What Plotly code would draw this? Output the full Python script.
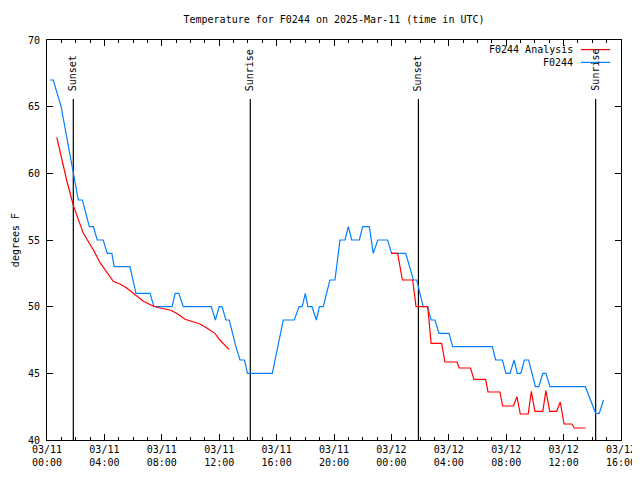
import plotly.graph_objects as go

# ---------------- data ----------------
title_text = "Temperature for F0244 on 2025-Mar-11 (time in UTC)"

blue_name = "F0244"
blue_time = [
    "2025-03-11 00:13", "2025-03-11 00:26", "2025-03-11 00:59", "2025-03-11 01:50",
    "2025-03-11 02:01", "2025-03-11 02:11", "2025-03-11 02:28", "2025-03-11 02:43",
    "2025-03-11 02:57", "2025-03-11 03:14", "2025-03-11 03:30", "2025-03-11 03:55",
    "2025-03-11 04:12", "2025-03-11 04:31", "2025-03-11 04:41", "2025-03-11 05:47",
    "2025-03-11 06:00", "2025-03-11 06:12", "2025-03-11 07:11", "2025-03-11 07:27",
    "2025-03-11 08:43", "2025-03-11 08:56", "2025-03-11 09:11", "2025-03-11 09:30",
    "2025-03-11 11:27", "2025-03-11 11:44", "2025-03-11 12:00", "2025-03-11 12:12",
    "2025-03-11 12:28", "2025-03-11 12:42", "2025-03-11 13:10", "2025-03-11 13:27",
    "2025-03-11 13:46", "2025-03-11 13:58", "2025-03-11 15:42", "2025-03-11 16:28",
    "2025-03-11 17:14", "2025-03-11 17:34", "2025-03-11 17:47", "2025-03-11 18:00",
    "2025-03-11 18:11", "2025-03-11 18:28", "2025-03-11 18:46", "2025-03-11 18:59",
    "2025-03-11 19:15", "2025-03-11 19:43", "2025-03-11 20:04", "2025-03-11 20:25",
    "2025-03-11 20:46", "2025-03-11 21:00", "2025-03-11 21:14", "2025-03-11 21:46",
    "2025-03-11 22:00", "2025-03-11 22:28", "2025-03-11 22:44", "2025-03-11 23:03",
    "2025-03-11 23:44", "2025-03-12 00:01", "2025-03-12 01:00", "2025-03-12 01:32",
    "2025-03-12 01:46", "2025-03-12 02:13", "2025-03-12 02:31", "2025-03-12 02:46",
    "2025-03-12 03:02", "2025-03-12 03:19", "2025-03-12 04:01", "2025-03-12 04:16",
    "2025-03-12 07:02", "2025-03-12 07:16", "2025-03-12 07:44", "2025-03-12 07:59",
    "2025-03-12 08:16", "2025-03-12 08:33", "2025-03-12 08:46", "2025-03-12 09:01",
    "2025-03-12 09:16", "2025-03-12 09:34", "2025-03-12 10:02", "2025-03-12 10:16",
    "2025-03-12 10:33", "2025-03-12 10:46", "2025-03-12 11:03", "2025-03-12 13:31",
    "2025-03-12 14:14", "2025-03-12 14:29", "2025-03-12 14:47",
]
blue_temp = [
    67, 67, 65, 60,
    59, 58, 58, 57,
    56, 56, 55, 55,
    54, 54, 53, 53,
    52, 51, 51, 50,
    50, 51, 51, 50,
    50, 49, 50, 50,
    49, 49, 47, 46,
    46, 45, 45, 49,
    49, 50, 50, 51,
    50, 50, 49, 50,
    50, 52, 52, 55,
    55, 56, 55, 55,
    56, 56, 54, 55,
    55, 54, 54, 52,
    52, 50, 50, 49,
    49, 48, 48, 47,
    47, 46, 46, 45,
    45, 46, 45, 45,
    46, 46, 44, 44,
    45, 45, 44, 44,
    42, 42, 43,
]

red_name = "F0244 Analysis"
red_time = [
    "2025-03-11 00:41", "2025-03-11 01:22", "2025-03-11 01:50", "2025-03-11 02:11",
    "2025-03-11 02:32", "2025-03-11 03:14", "2025-03-11 03:42", "2025-03-11 04:37",
    "2025-03-11 05:05", "2025-03-11 05:33", "2025-03-11 06:08", "2025-03-11 06:43",
    "2025-03-11 07:24", "2025-03-11 07:52", "2025-03-11 08:34", "2025-03-11 09:02",
    "2025-03-11 09:37", "2025-03-11 10:05", "2025-03-11 10:40", "2025-03-11 11:08",
    "2025-03-11 11:42", "2025-03-11 12:03", "2025-03-11 12:41",
    "2025-03-11 18:00",
    "2025-03-11 23:58", "2025-03-12 00:26", "2025-03-12 00:46", "2025-03-12 01:29",
    "2025-03-12 01:43", "2025-03-12 02:32", "2025-03-12 02:46", "2025-03-12 03:30",
    "2025-03-12 03:44", "2025-03-12 04:35", "2025-03-12 04:43", "2025-03-12 05:31",
    "2025-03-12 05:45", "2025-03-12 06:34", "2025-03-12 06:44", "2025-03-12 07:34",
    "2025-03-12 07:45", "2025-03-12 08:30", "2025-03-12 08:45", "2025-03-12 08:59",
    "2025-03-12 09:32", "2025-03-12 09:45", "2025-03-12 10:00", "2025-03-12 10:33",
    "2025-03-12 10:46", "2025-03-12 11:02", "2025-03-12 11:31", "2025-03-12 11:46",
    "2025-03-12 12:02", "2025-03-12 12:34", "2025-03-12 12:45", "2025-03-12 13:32",
]
red_temp = [
    62.7, 59.5, 57.6, 56.6,
    55.5, 54.25, 53.3, 51.9,
    51.7, 51.4, 50.9, 50.4,
    50.05, 49.9, 49.75, 49.5,
    49.05, 48.9, 48.7, 48.4,
    48.0, 47.5, 46.8,
    None,
    54.0, 54.0, 52.0, 52.0,
    50.0, 50.0, 47.25, 47.25,
    45.85, 45.85, 45.4, 45.4,
    44.55, 44.55, 43.6, 43.6,
    42.55, 42.55, 43.25, 41.95,
    41.95, 43.65, 42.15, 42.15,
    43.7, 42.15, 42.15, 42.85,
    41.2, 41.2, 40.9, 40.9,
]

sun_time = ["2025-03-11 01:50", "2025-03-11 14:10", "2025-03-12 01:53", "2025-03-12 14:14"]
sun_label = ["Sunset", "Sunrise", "Sunset", "Sunrise"]

x_tickvals = ["2025-03-11 00:00", "2025-03-11 04:00", "2025-03-11 08:00", "2025-03-11 12:00",
              "2025-03-11 16:00", "2025-03-11 20:00", "2025-03-12 00:00", "2025-03-12 04:00",
              "2025-03-12 08:00", "2025-03-12 12:00", "2025-03-12 16:00"]
x_ticktext = ["03/11<br>00:00", "03/11<br>04:00", "03/11<br>08:00", "03/11<br>12:00",
              "03/11<br>16:00", "03/11<br>20:00", "03/12<br>00:00", "03/12<br>04:00",
              "03/12<br>08:00", "03/12<br>12:00", "03/12<br>16:00"]
y_tickvals = [40, 45, 50, 55, 60, 65, 70]

x_range = ["2025-03-11 00:00", "2025-03-12 16:00"]
y_range = [40, 70]

# ---------------- styles ----------------
FONT = "DejaVu Sans Mono"
BLUE = "#0080ff"
RED = "#ff0000"

fig = go.Figure()
fig.add_trace(go.Scatter(x=blue_time, y=blue_temp, mode="lines", name=blue_name,
                         line=dict(color=BLUE, width=1.2), showlegend=False))
fig.add_trace(go.Scatter(x=red_time, y=red_temp, mode="lines", name=red_name,
                         line=dict(color=RED, width=1.2), connectgaps=False, showlegend=False))

# sunrise / sunset markers
for t, lab in zip(sun_time, sun_label):
    fig.add_shape(type="line", xref="x", yref="paper", x0=t, x1=t, y0=0, y1=0.8525,
                  line=dict(color="black", width=1.2), layer="below")
    fig.add_annotation(x=t, xref="x", y=0.8675, yref="paper", text=lab, textangle=-90,
                       showarrow=False, xanchor="center", yanchor="bottom",
                       font=dict(family=FONT, size=10, color="black"))

# gnuplot-style legend (text then line sample)
legend_rows = [(red_name, RED, 0.976), (blue_name, BLUE, 0.944)]
for name, col, yy in legend_rows:
    fig.add_annotation(x=0.919, xref="paper", y=yy, yref="paper", text=name,
                       showarrow=False, xanchor="right", yanchor="middle",
                       font=dict(family=FONT, size=10, color="black"))
    fig.add_shape(type="line", xref="paper", yref="paper", x0=0.930, x1=0.981,
                  y0=yy, y1=yy, line=dict(color=col, width=1.2))

# y axis title
fig.add_annotation(x=-0.0555, xref="paper", y=0.5, yref="paper", text="degrees F",
                   textangle=-90, showarrow=False, xanchor="center", yanchor="middle",
                   font=dict(family=FONT, size=10, color="black"))

# the page adds an 8px body margin, so the figure is shifted by (8, 8)
fig.update_layout(
    width=640, height=480,
    margin=dict(l=39, r=27, t=32, b=48),
    paper_bgcolor="white", plot_bgcolor="white",
    font=dict(family=FONT, size=10, color="black"),
    title=dict(text=title_text, x=0.5, xref="paper", xanchor="center",
               y=1 - 11 / 480, yref="container", yanchor="middle",
               font=dict(family=FONT, size=10, color="black")),
    showlegend=False,
)
fig.update_xaxes(type="date", range=x_range, tickmode="array", tickvals=x_tickvals,
                 ticktext=x_ticktext, ticks="inside", ticklen=6, tickcolor="black",
                 showline=True, linecolor="black", linewidth=1, mirror="ticks",
                 showgrid=False, zeroline=False,
                 minor=dict(ticks="inside", ticklen=3, dtick=3600000, tickcolor="black",
                            showgrid=False),
                 tickfont=dict(family=FONT, size=10, color="black"))
fig.update_yaxes(range=y_range, tickmode="array", tickvals=y_tickvals,
                 ticks="inside", ticklen=6, tickcolor="black",
                 showline=True, linecolor="black", linewidth=1, mirror="ticks",
                 showgrid=False, zeroline=False, ticklabelstandoff=4,
                 tickfont=dict(family=FONT, size=10, color="black"))

fig.write_html("out.html")
